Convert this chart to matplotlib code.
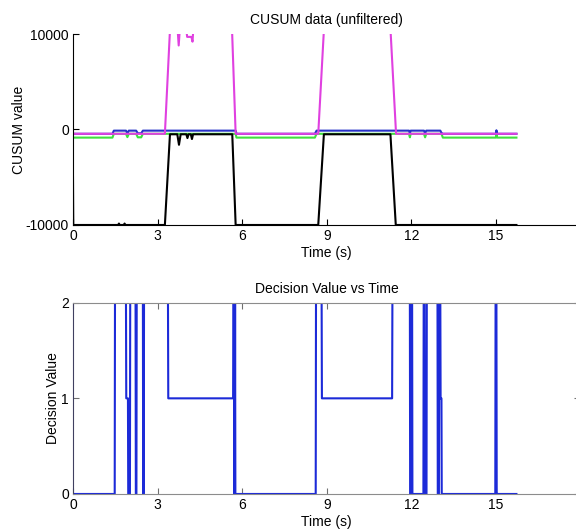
import numpy as np
import matplotlib
matplotlib.use('Agg')
import matplotlib.pyplot as plt

plt.rcParams['font.family'] = ['Liberation Sans', 'DejaVu Sans']
plt.rcParams['axes.unicode_minus'] = False

# =============================================================================
# Data (time in s, CUSUM / decision values)
# =============================================================================
# magenta CUSUM trace (goes off the top of the plot while a signal is present)
mag_t = [0, 3.26, 3.44, 3.70, 3.75, 3.80, 4.00, 4.05, 4.20, 4.24, 4.28,
         5.64, 5.77, 8.70, 8.90, 11.26, 11.46, 15.73]
mag_v = [-450, -450, 10400, 11000, 8800, 11000, 11000, 9700, 9700, 9200, 11000,
         10600, -450, -450, 10400, 10600, -450, -450]

# blue CUSUM trace
blu_t = [0, 1.40, 1.45, 1.88, 1.93, 1.98, 2.24, 2.30, 2.42, 2.48, 5.77, 5.80,
         8.58, 8.64, 11.92, 11.95, 11.98, 12.45, 12.49, 12.53, 13.03, 13.07,
         13.12, 15.00, 15.02, 15.05, 15.73]
blu_v = [-450, -450, -120, -120, -400, -120, -120, -400, -400, -120, -120, -450,
         -450, -120, -120, -400, -120, -120, -400, -120, -120, -350,
         -450, -450, -80, -450, -450]

# green CUSUM trace
grn_t = [0, 1.40, 1.45, 1.88, 1.93, 1.98, 2.24, 2.30, 2.42, 2.48, 5.77, 5.80,
         8.58, 8.64, 11.92, 11.95, 11.98, 12.45, 12.49, 12.53, 13.07, 13.12,
         15.00, 15.02, 15.05, 15.73]
grn_v = [-850, -850, -450, -450, -800, -450, -450, -820, -820, -450, -450, -850,
         -850, -450, -450, -820, -450, -450, -820, -450, -450, -850,
         -850, -500, -850, -850]

# black CUSUM trace (sits on the bottom limit when no signal)
blk_t = [0, 0.01, 1.60, 1.63, 1.66, 1.80, 1.83, 1.86, 3.26, 3.44, 3.70, 3.76,
         3.82, 4.02, 4.06, 4.10, 4.18, 4.22, 4.26, 5.65, 5.77, 8.70, 8.90,
         11.26, 11.45, 15.73]
blk_v = [-5000, -10000, -10000, -9850, -10000, -10000, -9850, -10000, -10000,
         -500, -500, -1600, -500, -500, -900, -500, -500, -1000, -500, -500,
         -10000, -10000, -500, -500, -10000, -10000]

# decision value (0 / 1 / 2) over time
dec_t = [0, 1.48, 1.49, 1.88, 1.89, 1.95, 1.96, 2.02, 2.03, 2.22, 2.23, 2.25,
         2.26, 2.48, 2.49, 2.51, 2.52, 3.37, 3.38, 5.68, 5.69, 5.71, 5.72,
         5.74, 5.75, 5.76, 8.61, 8.62, 8.82, 8.83, 11.32, 11.33, 11.95, 11.96,
         11.99, 12.00, 12.03, 12.04, 12.43, 12.44, 12.47, 12.48, 12.54, 12.55,
         12.93, 12.94, 12.98, 12.99, 13.03, 13.04, 13.07, 13.08, 14.98, 14.99,
         15.02, 15.03, 15.06, 15.07, 15.73]
dec_v = [0, 0, 2, 2, 1, 1, 0, 0, 2, 2, 0, 0,
         2, 2, 0, 0, 2, 2, 1, 1, 2, 2, 0,
         0, 2, 0, 0, 2, 2, 1, 1, 2, 2, 0,
         0, 2, 2, 0, 0, 2, 2, 0, 0, 2,
         2, 0, 0, 2, 2, 1, 1, 0, 0, 2,
         2, 0, 0, 0, 0]

x_ticks = [0, 3, 6, 9, 12, 15]

# =============================================================================
# Figure
# =============================================================================
fig = plt.figure(figsize=(5.76, 5.29), dpi=100)

# axes positions (the right edge runs slightly past the image, like the source)
ax1 = fig.add_axes([0.1267, 0.5747, 0.881, 0.361])
ax2 = fig.add_axes([0.1267, 0.0662, 0.881, 0.3616])

fs = 10
lw = 1.5
ax1.plot(grn_t, grn_v, color='#3ee03e', lw=lw)
ax1.plot(blu_t, blu_v, color='#2632c8', lw=lw)
ax1.plot(mag_t, mag_v, color='#e040e0', lw=lw)
ax1.plot(blk_t, blk_v, color='black', lw=lw)

ax1.set_xlim(0, 18)
ax1.set_ylim(-10000, 10000)
ax1.set_xticks(x_ticks)
ax1.set_yticks([-10000, 0, 10000])
ax1.spines['top'].set_visible(False)
ax1.spines['right'].set_visible(False)
ax1.tick_params(direction='in', length=4, labelsize=fs, pad=3)
ax1.set_title('CUSUM data (unfiltered)', fontsize=fs, pad=7)
ax1.set_xlabel('Time (s)', fontsize=fs, labelpad=2)
ax1.set_ylabel('CUSUM value', fontsize=fs, labelpad=0)

ax2.plot(dec_t, dec_v, color='#1c2ad8', lw=lw)
ax2.set_xlim(0, 18)
ax2.set_ylim(0, 2)
ax2.set_xticks(x_ticks)
ax2.set_yticks([0, 1, 2])
for side in ['top', 'bottom', 'right']:
    ax2.spines[side].set_color('#8c8c8c')
ax2.spines['left'].set_color('#404060')
ax2.tick_params(direction='in', length=4, labelsize=fs, pad=3,
                top=True, right=True, color='#707070')
ax2.set_title('Decision Value vs Time', fontsize=fs, pad=7)
ax2.set_xlabel('Time (s)', fontsize=fs, labelpad=2)
ax2.set_ylabel('Decision Value', fontsize=fs, labelpad=1)

fig.savefig('out.png', dpi=100)
